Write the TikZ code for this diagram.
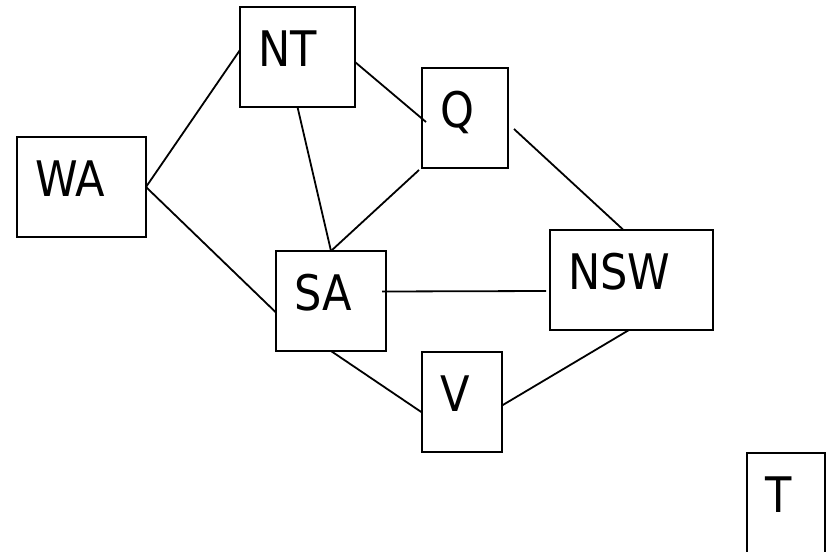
\documentclass[tikz,border=0pt]{standalone}
\usepackage{fontspec}
\setmainfont{DejaVu Sans}[FakeStretch=0.88]
\begin{document}
\begin{tikzpicture}[x=1pt, y=-1pt, line width=1.8pt,
	region/.style={draw, anchor=north west, outer sep=0pt, inner xsep=18pt, inner ysep=0pt,
	    text height=59pt, text depth=41pt, align=left, font=\fontsize{49}{59}\selectfont}]
	\useasboundingbox (0,0) rectangle (831,552);
	\node[region, text width=93pt] (wa) at (17,137) {WA};
	\node[region, text width=79pt] (nt) at (240,7) {NT};
	\node[region, text width=50pt] (q) at (422,68) {Q};
	\node[region, text width=74pt] (sa) at (276,251) {SA};
	\node[region, text width=127pt] (nsw) at (550,230) {NSW};
	\node[region, text width=44pt] (v) at (422,352) {V};
	\node[region, text width=42pt] (t) at (747,453) {T};

	\draw (wa.east) -- ([yshift=7pt]nt.west);
	\draw (wa.east) -- ([yshift=-11.5pt]sa.west);
	\draw (nt.south) -- (sa.north);
	\draw ([yshift=-5pt]nt.east) -- ([xshift=4pt,yshift=-4pt]q.west);
	\draw ([xshift=-3pt,yshift=-2pt]q.south west) -- (sa.north);
	\draw ([xshift=6pt,yshift=-11pt]q.east) -- ([xshift=-8pt]nsw.north);
	\draw ([xshift=-4pt,yshift=9.5pt]sa.east) -- ([xshift=-4pt,yshift=-11pt]nsw.west);
	\draw (sa.south) -- ([yshift=-10.5pt]v.west);
	\draw ([yshift=-3.5pt]v.east) -- ([xshift=-2.5pt]nsw.south);

\end{tikzpicture}
\end{document}
